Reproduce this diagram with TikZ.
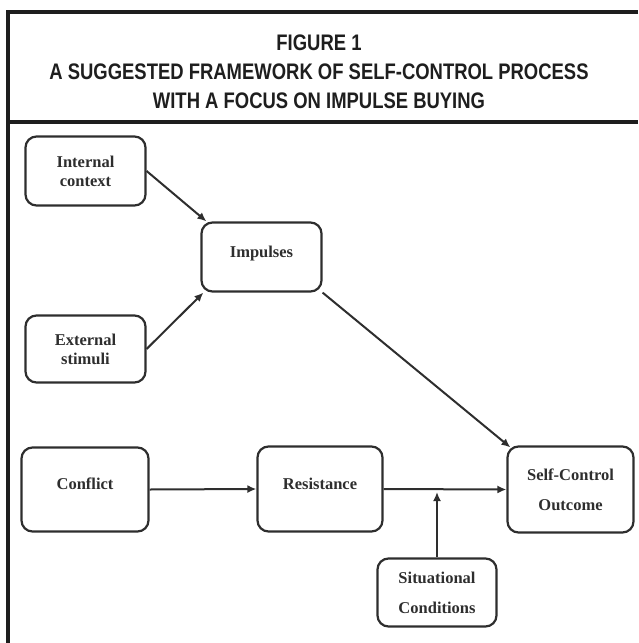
\documentclass[tikz,border=0pt]{standalone}
\usepackage{fontspec}
\setmainfont{Liberation Serif}
\newfontfamily\titlefont[FakeStretch=0.82]{Liberation Sans}
\usetikzlibrary{arrows.meta}
\definecolor{ink}{HTML}{2E2E2E}
\definecolor{framecol}{HTML}{1E1E1E}

\begin{document}
\begin{tikzpicture}[x=1pt, y=-1pt,
    box/.style={draw=ink, line width=2.2pt, rounded corners=11pt, text=ink, align=center,
        font=\fontsize{16.5}{19}\selectfont\bfseries, inner sep=0pt},
    oneline/.style={text height=11pt, text depth=11pt},
    link/.style={draw=ink, line width=2pt, -{Latex[length=9pt,width=8pt]}}]
    \useasboundingbox (0,0) rectangle (638,643);

    % Frame and title
    \draw[framecol, line width=3.2pt] (638,12) -- (8,12) -- (8,643);
    \draw[framecol, line width=3.2pt] (8,122) -- (638,122);
    \node[font=\titlefont\bfseries\fontsize{22.5}{29}\selectfont, text=framecol, align=center] (title) at (319,71.5)
        {FIGURE 1\\A SUGGESTED FRAMEWORK OF SELF-CONTROL PROCESS\\WITH A FOCUS ON IMPULSE BUYING};

    % Boxes
    \node[box, minimum width=120pt, minimum height=69pt] (internal) at (85.5,171) {Internal\\context};
    \node[box, oneline, minimum width=120pt, minimum height=69pt] (impulses) at (261.5,257) {Impulses};
    \node[box, minimum width=120pt, minimum height=67pt] (external) at (85.5,349) {External\\stimuli};
    \node[box, oneline, minimum width=127pt, minimum height=84pt] (conflict) at (85,489.5) {Conflict};
    \node[box, oneline, minimum width=125pt, minimum height=85pt] (resistance) at (320,489) {Resistance};
    \node[box, minimum width=126pt, minimum height=86pt] (outcome) at (570.5,489.5) {Self-Control\\[11pt]Outcome};
    \node[box, minimum width=119pt, minimum height=68pt] (situational) at (437,592.5) {Situational\\[11pt]Conditions};

    % Arrows
    \draw[link] (internal.east) -- ([xshift=6pt]impulses.north west);
    \draw[link] (external.east) -- ([xshift=3pt]impulses.south west);
    \draw[link] (impulses.south east) -- ([xshift=4pt,yshift=-2pt]outcome.north west);
    \draw[link] (conflict.east) -- (resistance.west);
    \draw[link] (resistance.east) -- (outcome.west);
    \coordinate (join) at ([yshift=-3pt]situational.north |- resistance.east);
    \draw[link] (situational.north) -- (join);
\end{tikzpicture}
\end{document}
